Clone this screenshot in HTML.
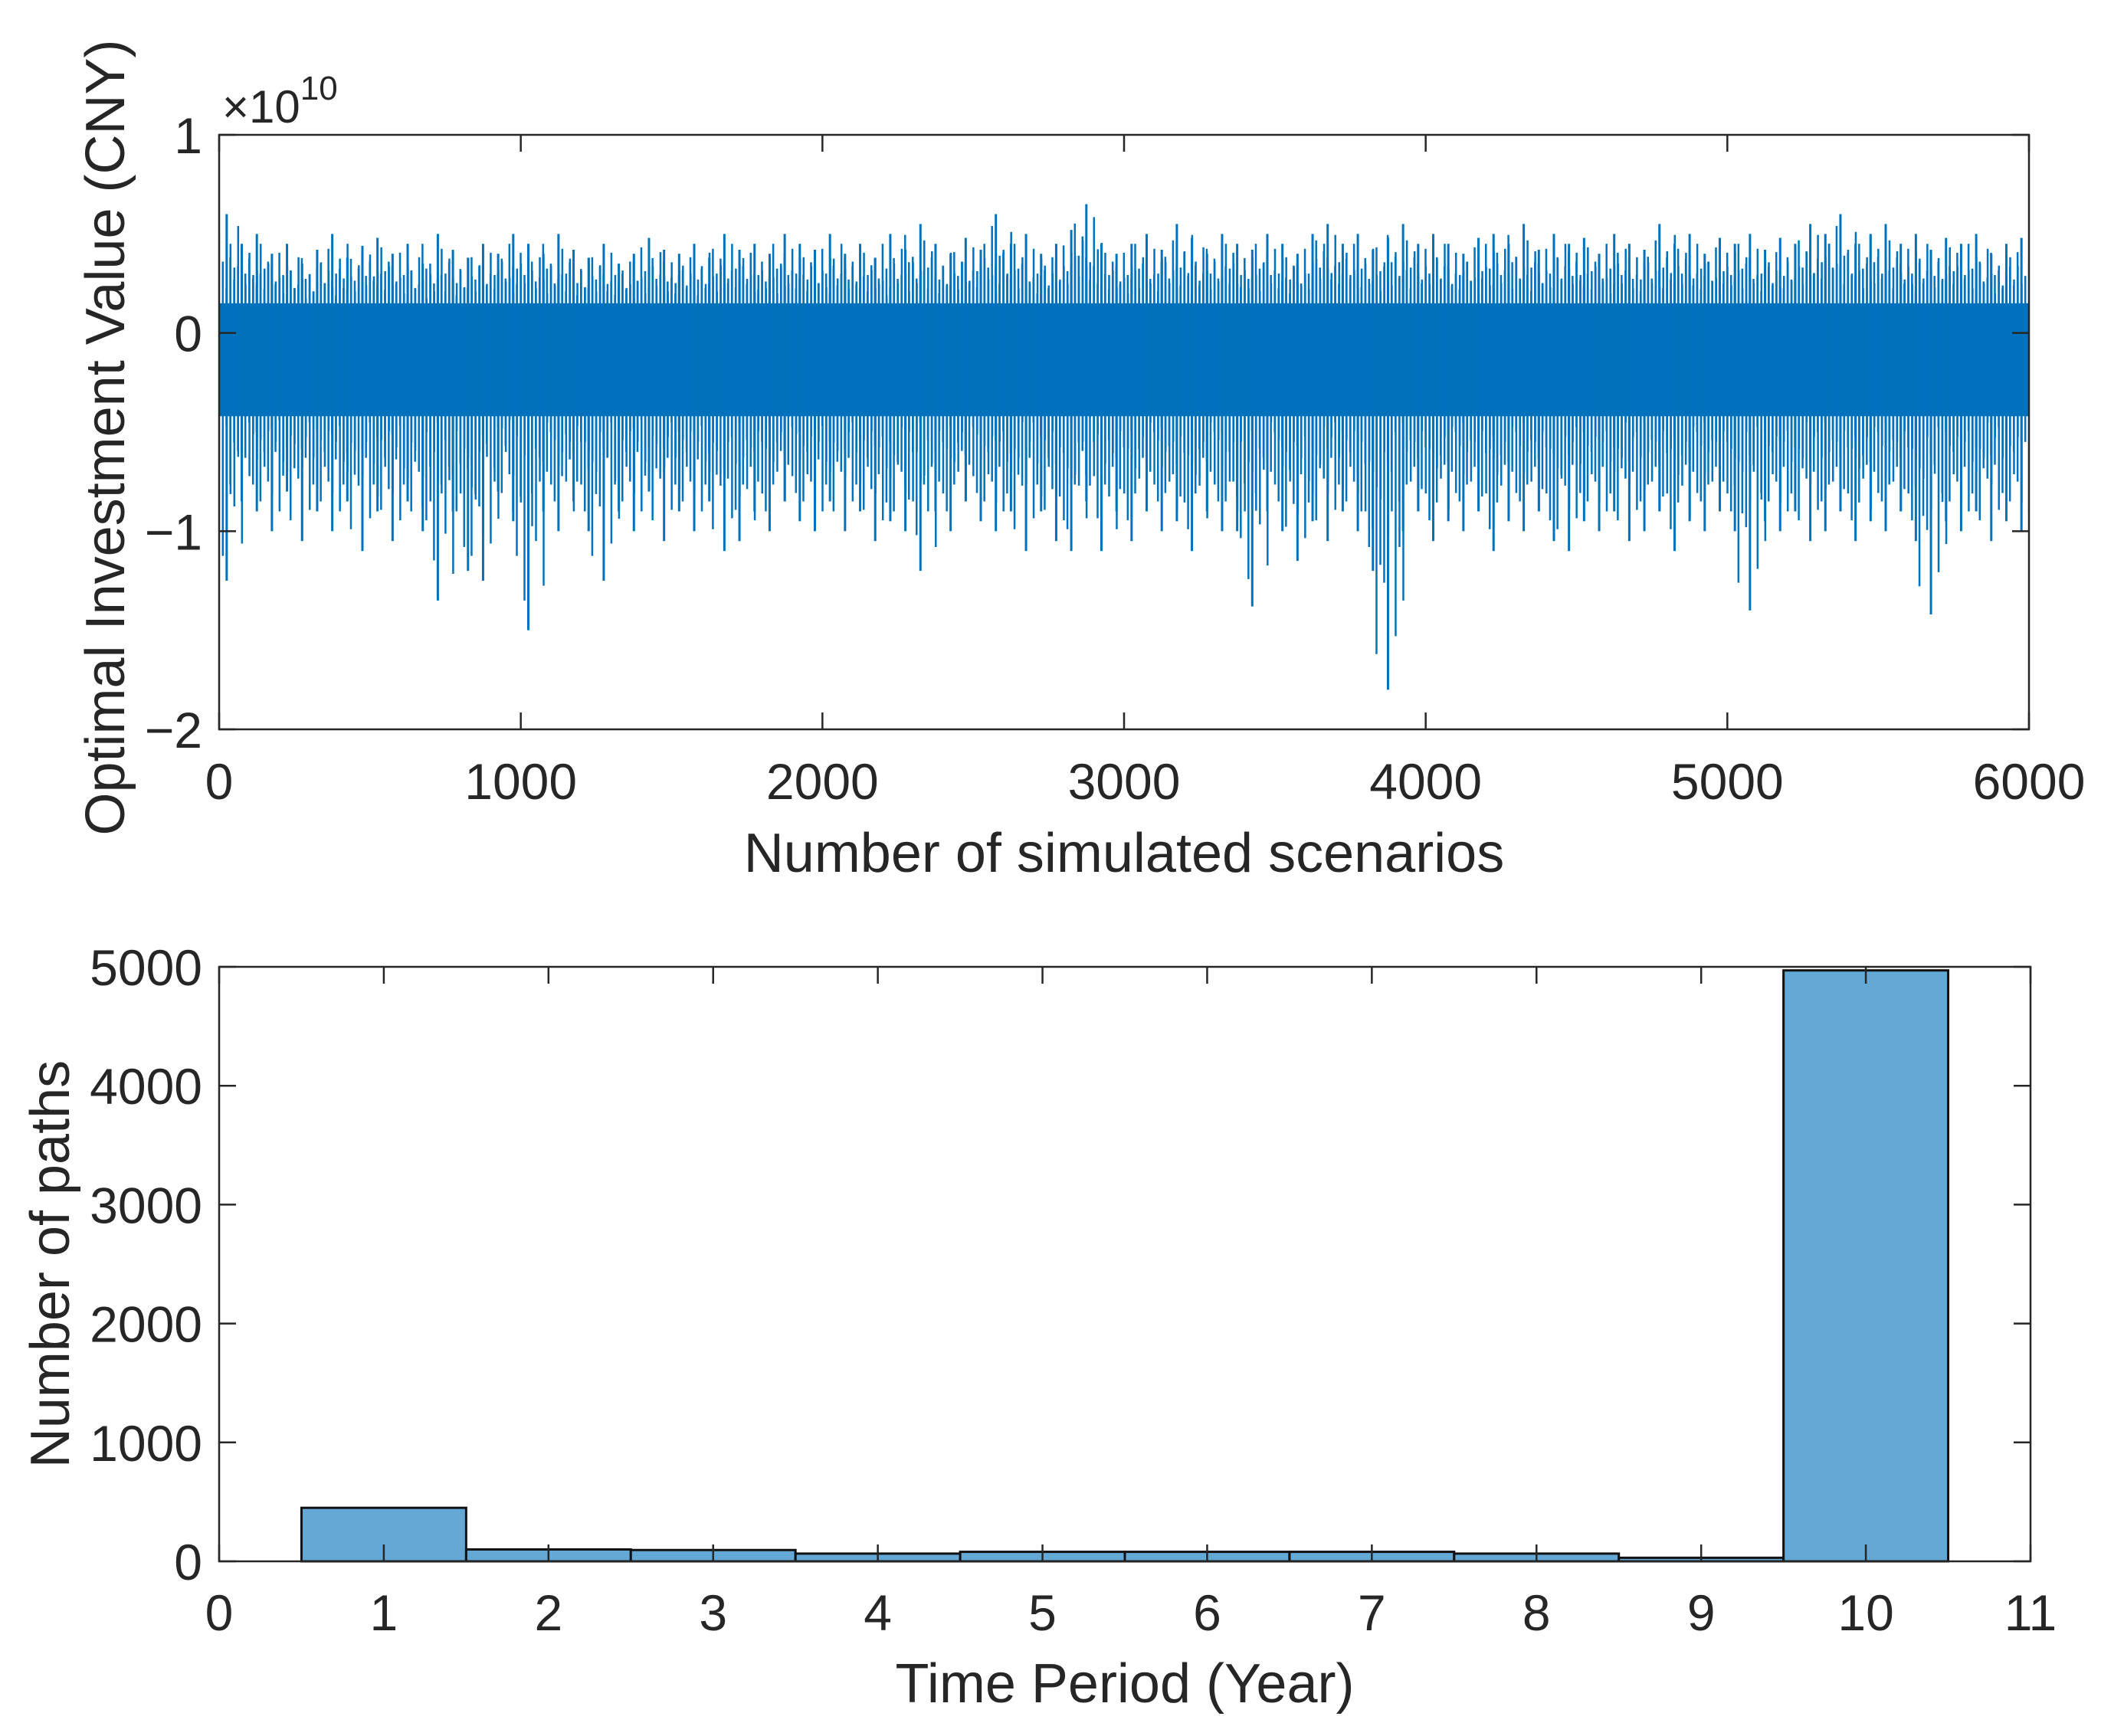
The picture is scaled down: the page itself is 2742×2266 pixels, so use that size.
<!DOCTYPE html>
<html><head><meta charset="utf-8"><style>
html,body{margin:0;padding:0;background:#fff}
svg{display:block}
text{font-family:"Liberation Sans",sans-serif;fill:#262626}
</style></head><body>
<svg id="fig" width="2742" height="2266" viewBox="0 0 2742 2266" xmlns="http://www.w3.org/2000/svg">
<defs><clipPath id="topclip"><rect x="286" y="176" width="2362" height="776"/></clipPath></defs>
<g id="topplot" clip-path="url(#topclip)"></g>
<g id="topchart"></g>
<g id="botchart"></g>
</svg>
<script>
// ---- top chart data (units of 1e10 CNY), per 50-scenario bin envelope ----
const binSize = 50;
const binHigh = [
0.6,0.45,0.5,0.4,0.45,0.35,0.42,0.5,0.38,0.44,
0.48,0.4,0.45,0.35,0.5,0.42,0.38,0.45,0.4,0.5,
0.45,0.4,0.5,0.42,0.38,0.45,0.35,0.4,0.48,0.42,
0.4,0.45,0.38,0.5,0.42,0.45,0.4,0.5,0.45,0.42,
0.5,0.4,0.45,0.38,0.5,0.42,0.55,0.45,0.4,0.48,
0.42,0.6,0.45,0.5,0.4,0.45,0.52,0.65,0.45,0.4,
0.45,0.5,0.42,0.55,0.48,0.4,0.5,0.45,0.42,0.5,
0.45,0.4,0.5,0.55,0.45,0.5,0.42,0.48,0.55,0.45,
0.5,0.45,0.4,0.48,0.5,0.45,0.55,0.42,0.5,0.45,
0.48,0.4,0.5,0.45,0.42,0.55,0.45,0.5,0.4,0.48,
0.45,0.5,0.42,0.48,0.45,0.55,0.5,0.6,0.45,0.5,
0.55,0.45,0.5,0.42,0.48,0.45,0.5,0.4,0.45,0.48];
const binLow = [
-1.25,-0.85,-0.9,-1.0,-0.8,-1.05,-0.9,-1.0,-0.85,-1.1,
-0.9,-1.05,-0.85,-1.0,-1.35,-0.9,-1.2,-1.25,-0.8,-0.95,
-1.5,-0.9,-1.0,-0.85,-1.0,-1.25,-0.9,-1.0,-0.8,-1.05,
-0.9,-1.0,-0.85,-1.1,-1.05,-0.9,-1.0,-0.85,-0.95,-1.0,
-0.85,-1.0,-0.9,-1.05,-0.95,-1.0,-1.2,-0.9,-1.0,-0.85,
-0.95,-1.0,-0.9,-1.1,-0.9,-1.05,-1.1,-0.85,-1.1,-0.9,
-1.05,-0.9,-1.0,-0.95,-1.1,-0.9,-1.0,-1.0,-1.38,-0.9,
-1.0,-1.15,-0.95,-1.05,-0.9,-1.0,-1.2,-1.8,-1.0,-0.9,
-1.05,-0.95,-1.0,-0.9,-1.1,-0.95,-1.0,-0.9,-1.05,-1.1,
-0.95,-1.0,-0.9,-1.05,-1.0,-0.9,-1.1,-0.95,-1.0,-0.9,
-1.0,-1.4,-0.95,-1.0,-0.9,-1.05,-1.0,-0.9,-1.05,-0.95,
-1.0,-0.9,-1.05,-1.42,-0.95,-1.0,-0.9,-1.05,-0.95,-1.0];
const coreHigh = 0.15, coreLow = -0.42;
const topXTicks = [0,1000,2000,3000,4000,5000,6000];
const topYTicks = [1,0,-1,-2];
const topYLabels = ["1","0","\u22121","\u22122"];
// ---- histogram data ----
const years = [1,2,3,4,5,6,7,8,9,10];
const pathCounts = [450,100,95,65,80,80,80,65,30,4970];
const botXTicks = [0,1,2,3,4,5,6,7,8,9,10,11];
const botYTicks = [0,1000,2000,3000,4000,5000];

const NS="http://www.w3.org/2000/svg";
function mk(parent,tag,attrs,txt){const e=document.createElementNS(NS,tag);for(const k in attrs)e.setAttribute(k,attrs[k]);if(txt!==undefined)e.textContent=txt;parent.appendChild(e);return e;}

// top axes
const T={l:286,r:2648,t:176,b:952,x0:0,x1:6000,y0:-2,y1:1};
const tx=v=>T.l+(v-T.x0)/(T.x1-T.x0)*(T.r-T.l);
const ty=v=>T.b-(v-T.y0)/(T.y1-T.y0)*(T.b-T.t);
const topP=document.getElementById('topplot');
const topG=document.getElementById('topchart');
const core=mk(topP,'rect',{x:tx(0),y:ty(coreHigh),width:tx(6000)-tx(0),height:ty(coreLow)-ty(coreHigh),fill:'#0072BD'});


const offs=[-20,-15,-10,-5,5,10,15,20];
const facs=[0.7,0.5,0.85,0.6,0.75,0.55,0.9,0.65];
for(let i=0;i<binHigh.length;i++){
  const xc=tx(i*binSize+binSize/2);
  const l=mk(topP,'line',{x1:xc,x2:xc,y1:ty(binHigh[i]),y2:ty(binLow[i]),stroke:'#0072BD','stroke-width':3});
  
  
  for(let k=0;k<offs.length;k++){
    const f=facs[(k+i)%facs.length];
    const g=facs[(k+2*i+3)%facs.length];
    const l2=mk(topP,'line',{x1:xc+offs[k],x2:xc+offs[k],y1:ty(binHigh[i]*f),y2:ty(binLow[i]*g),stroke:'#0072BD','stroke-width':2.5});
    
    
  }
}
const box1=mk(topG,'rect',{x:T.l,y:T.t,width:T.r-T.l,height:T.b-T.t,fill:'none',stroke:'#262626','stroke-width':2.5});


topXTicks.forEach(v=>{
  const x=tx(v);
  mk(topG,'line',{x1:x,x2:x,y1:T.b,y2:T.b-22,stroke:'#262626','stroke-width':2.5});
  mk(topG,'line',{x1:x,x2:x,y1:T.t,y2:T.t+22,stroke:'#262626','stroke-width':2.5});
  const t=mk(topG,'text',{x:x,y:1043,'font-size':66,'text-anchor':'middle'},String(v));
  
  
});
topYTicks.forEach((v,i)=>{
  const y=ty(v);
  mk(topG,'line',{x1:T.l,x2:T.l+22,y1:y,y2:y,stroke:'#262626','stroke-width':2.5});
  mk(topG,'line',{x1:T.r,x2:T.r-22,y1:y,y2:y,stroke:'#262626','stroke-width':2.5});
  const t=mk(topG,'text',{x:T.l-22,y:y+24,'font-size':66,'text-anchor':'end'},topYLabels[i]);
  
  
});
const ex=mk(topG,'text',{x:290,y:160,'font-size':60},'\u00d710');


mk(ex,'tspan',{dy:-30,'font-size':44},'10');
const xl1=mk(topG,'text',{x:(T.l+T.r)/2,y:1138,'font-size':72,'text-anchor':'middle'},'Number of simulated scenarios');


const yl1=mk(topG,'text',{x:0,y:0,'font-size':72,'text-anchor':'middle',transform:'translate(162,571) rotate(-90)'},'Optimal Investment Value (CNY)');



// bottom axes
const B={l:286,r:2650,t:1262,b:2038,x0:0,x1:11,y0:0,y1:5000};
const bx=v=>B.l+(v-B.x0)/(B.x1-B.x0)*(B.r-B.l);
const by=v=>B.b-(v-B.y0)/(B.y1-B.y0)*(B.b-B.t);
const botG=document.getElementById('botchart');
years.forEach((yr,i)=>{
  const r=mk(botG,'rect',{x:bx(yr-0.5),y:by(pathCounts[i]),width:bx(yr+0.5)-bx(yr-0.5),height:by(0)-by(pathCounts[i]),fill:'#64A8D6',stroke:'#111','stroke-width':3});
  
  
});
const box2=mk(botG,'rect',{x:B.l,y:B.t,width:B.r-B.l,height:B.b-B.t,fill:'none',stroke:'#262626','stroke-width':2.5});


botXTicks.forEach(v=>{
  const x=bx(v);
  mk(botG,'line',{x1:x,x2:x,y1:B.b,y2:B.b-22,stroke:'#262626','stroke-width':2.5});
  mk(botG,'line',{x1:x,x2:x,y1:B.t,y2:B.t+22,stroke:'#262626','stroke-width':2.5});
  const t=mk(botG,'text',{x:x,y:2128,'font-size':66,'text-anchor':'middle'},String(v));
  
  
});
botYTicks.forEach(v=>{
  const y=by(v);
  mk(botG,'line',{x1:B.l,x2:B.l+22,y1:y,y2:y,stroke:'#262626','stroke-width':2.5});
  mk(botG,'line',{x1:B.r,x2:B.r-22,y1:y,y2:y,stroke:'#262626','stroke-width':2.5});
  const t=mk(botG,'text',{x:B.l-22,y:y+24,'font-size':66,'text-anchor':'end'},String(v));
  
  
});
const xl2=mk(botG,'text',{x:(B.l+B.r)/2,y:2222,'font-size':72,'text-anchor':'middle'},'Time Period (Year)');


const yl2=mk(botG,'text',{x:0,y:0,'font-size':72,'text-anchor':'middle',transform:'translate(90,1650) rotate(-90)'},'Number of paths');


</script>
</body></html>
